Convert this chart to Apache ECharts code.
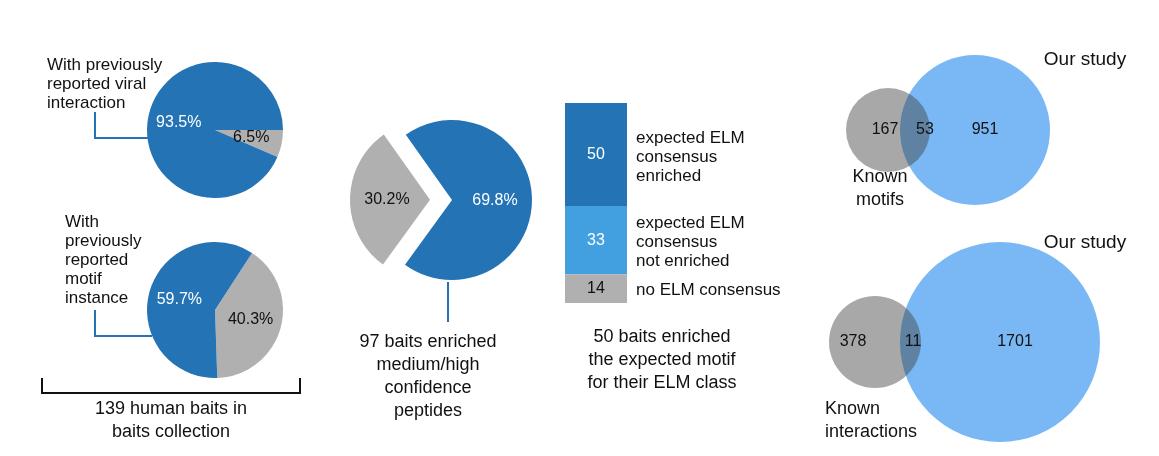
<!DOCTYPE html>
<html><head><meta charset="utf-8">
<script src="https://cdn.jsdelivr.net/npm/echarts@6/dist/echarts.min.js"></script>
<style>html,body{margin:0;background:#fff}#c{width:1159px;height:456px}</style></head>
<body><div id="c"></div>
<script>
const viralValues=[6.5,93.5];
const motifValues=[40.3,59.7];
const enrichedValues=[30.2,69.8];
const barCategories=['expected ELM consensus enriched','expected ELM consensus not enriched','no ELM consensus'];
const barValues=[50,33,14];
const vennMotifs=[167,53,951];
const vennInteractions=[378,11,1701];

const BLUE='#2474b5',GRAY='#b0b0b0',LBLUE='#42a0e0',VBLUE='#7ab8f5';
const F='Liberation Sans, Arial, sans-serif';
const chart=echarts.init(document.getElementById('c'));
function pieData(vals,selGray){
  return vals.map((v,i)=>({value:v,selected:selGray&&i===0,
    itemStyle:{color:i===0?GRAY:BLUE},
    label:{color:i===0?'#111':'#fff'}}));
}
function pie(center,r,start,vals,sel){
  return {type:'pie',center,radius:r,startAngle:start,clockwise:true,
    selectedMode:sel?'single':false,selectedOffset:22,animation:false,silent:true,
    label:{show:true,position:'inside',formatter:p=>p.value.toFixed(1)+'%',fontSize:16,fontFamily:F},
    labelLine:{show:false},itemStyle:{borderWidth:0},emphasis:{disabled:true},
    data:pieData(vals,sel)};
}
const venn1C=[[888,130],[975,130]], venn2C=[[875,342],[1000,342]];
const venn1R=[42,75], venn2R=[46,100];
function vennSeries(vals,C,R){
  const gray=vals[0]+vals[1], blue=vals[1]+vals[2];
  return [
    {type:'scatter',xAxisIndex:1,yAxisIndex:1,animation:false,silent:true,z:2,
      symbolSize:2*R[1],itemStyle:{color:VBLUE,opacity:1},data:[[C[1][0],C[1][1],blue]]},
    {type:'scatter',xAxisIndex:1,yAxisIndex:1,animation:false,silent:true,z:3,
      symbolSize:2*R[0],itemStyle:{color:'rgba(62,62,62,0.45)',opacity:1},data:[[C[0][0],C[0][1],gray]]}
  ];
}
const texts=[];
function T(x,y,s,size,align,color){texts.push({type:'text',x,y,z:10,style:{text:s,font:(size||16)+'px '+F,fill:color||'#111',textAlign:align||'left',textVerticalAlign:'middle',lineHeight:size===18?23:19}});}
function L(pts){texts.push({type:'polyline',z:10,shape:{points:pts},style:{stroke:BLUE,lineWidth:2,fill:null}});}
T(47,84,'With previously\nreported viral\ninteraction',17);
L([[95,112],[95,138],[152,138]]);
T(65,260,'With\npreviously\nreported\nmotif\ninstance',17);
L([[95,310],[95,336],[152,336]]);
texts.push({type:'polyline',z:10,shape:{points:[[42,378],[42,393],[300,393],[300,378]]},style:{stroke:'#111',lineWidth:2,fill:null}});
T(171,421,'139 human baits in\nbaits collection',18,'center');
L([[448,282],[448,322]]);
T(428,377,'97 baits enriched\nmedium/high\nconfidence\npeptides',18,'center');
T(636,157,'expected ELM\nconsensus\nenriched',17);
T(636,242,'expected ELM\nconsensus\nnot enriched',17);
T(636,290,'no ELM consensus',17);
T(662,360,'50 baits enriched\nthe expected motif\nfor their ELM class',18,'center');
T(1085,60,'Our study',19,'center');
T(880,189,'Known\nmotifs',18,'center');
T(885,130,String(vennMotifs[0]),16,'center');
T(925,130,String(vennMotifs[1]),16,'center');
T(985,130,String(vennMotifs[2]),16,'center');
T(1085,243,'Our study',19,'center');
T(853,342,String(vennInteractions[0]),16,'center');
T(913,342,String(vennInteractions[1]),16,'center');
T(1015,342,String(vennInteractions[2]),16,'center');
T(825,421,'Known\ninteractions',18,'left');

const barColors=[BLUE,LBLUE,GRAY];
chart.setOption({
  animation:false,
  grid:[{left:565,top:103,width:62,height:200},{left:0,top:0,width:1159,height:456}],
  xAxis:[{type:'category',gridIndex:0,data:['b'],show:false},
         {type:'value',gridIndex:1,min:0,max:1159,show:false}],
  yAxis:[{type:'value',gridIndex:0,min:0,max:97,show:false,inverse:true},
         {type:'value',gridIndex:1,min:0,max:456,show:false,inverse:true}],
  series:[
    pie([215,130],68,0,viralValues,false),
    pie([215,310],68,57,motifValues,false),
    pie([452,200],80,234,enrichedValues,true),
    ...barValues.map((v,i)=>({type:'bar',stack:'s',barWidth:'100%',data:[v],silent:true,name:barCategories[i],
      itemStyle:{color:barColors[i]},
      label:{show:true,position:'inside',fontSize:16,fontFamily:F,color:i===2?'#111':'#fff'}})),
    ...vennSeries(vennMotifs,venn1C,venn1R),
    ...vennSeries(vennInteractions,venn2C,venn2R)
  ],
  graphic:texts
});
</script></body></html>
